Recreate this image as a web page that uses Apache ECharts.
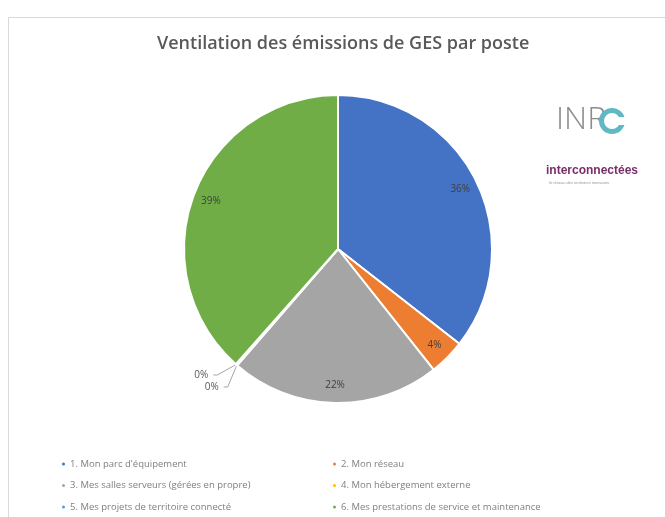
<!DOCTYPE html>
<html><head><meta charset="utf-8">
<script src="https://cdn.jsdelivr.net/npm/echarts@6/dist/echarts.min.js"></script>
<style>html,body{margin:0;padding:0;background:#fff}#c{width:665px;height:517px}</style>
</head><body><div id="c"></div>
<script>
const categories = [
  "1. Mon parc d'équipement",
  "2. Mon réseau",
  "3. Mes salles serveurs (gérées en propre)",
  "4. Mon hébergement externe",
  "5. Mes projets de territoire connecté",
  "6. Mes prestations de service et maintenance"
];
const values = [35.7, 3.8, 22.1, 0.1, 0.1, 38.6];
const colors = ['#4472C4', '#ED7D31', '#A5A5A5', '#FFC000', '#5B9BD5', '#70AD47'];
const titleText = 'Ventilation des émissions de GES par poste';

const FONT = '"Open Sans", "Liberation Sans", sans-serif';
const chart = echarts.init(document.getElementById('c'));
const pct = v => Math.round(v) + '%';

const mainData = categories.map((n, i) => ({
  name: n, value: values[i],
  itemStyle: { color: colors[i] },
  label: values[i] < 1 ? { show: true } : { show: false },
  labelLine: values[i] < 1 ? { show: true } : { show: false }
}));
const labelData = categories.map((n, i) => ({
  name: n, value: values[i],
  label: { show: values[i] >= 1 }
}));

const legendCommon = {
  orient: 'vertical', top: 459, height: 60, itemGap: 11.5, padding: 0,
  icon: 'circle', itemWidth: 5, itemHeight: 5,
  textStyle: { fontFamily: FONT, fontSize: 9.5, color: '#7f7f7f', padding: [0, 0, 0, -1] }
};

chart.setOption({
  backgroundColor: '#fff',
  animation: false,
  title: {
    text: titleText, left: 152, top: 30,
    textStyle: { fontFamily: FONT, fontSize: 18, fontWeight: 600, color: '#595959' }
  },
  legend: [
    Object.assign({ data: [categories[0], categories[2], categories[4]], left: 60 }, legendCommon),
    Object.assign({ data: [categories[1], categories[3], categories[5]], left: 331 }, legendCommon)
  ],
  graphic: [
    { type: 'rect', shape: { x: 8.5, y: 17.5, width: 660, height: 520 },
      style: { fill: 'none', stroke: '#d9d9d9', lineWidth: 1 }, z: -1 },
    { type: 'text', left: 556, top: 104,
      style: { text: 'INR', font: '200 32px "Open Sans", sans-serif', fill: '#8c8c8c' } },
    { type: 'ring', shape: { cx: 612, cy: 121, r: 13, r0: 8 },
      style: { fill: '#5fb8c4' } },
    { type: 'rect', shape: { x: 616, y: 117, width: 10, height: 8 },
      style: { fill: '#ffffff' } },
    { type: 'text', left: 546, top: 165,
      style: { text: 'interconnectées', font: 'bold 12px "Liberation Sans Narrow", "Liberation Sans", sans-serif', fill: '#7a2e6a' } },
    { type: 'text', left: 549, top: 181,
      style: { text: 'le réseau des territoires innovants', font: '4px sans-serif', fill: '#999' } }
  ],
  series: [
    {
      type: 'pie', center: [338, 249], radius: 154,
      startAngle: 90, clockwise: true,
      data: mainData,
      itemStyle: { borderColor: '#fff', borderWidth: 2 },
      label: {
        position: 'outside', formatter: p => pct(p.value),
        fontFamily: FONT, fontSize: 10, color: '#595959'
      },
      labelLine: { length: 14, length2: 4, lineStyle: { color: '#a6a6a6' } },
      emphasis: { disabled: true }
    },
    {
      type: 'pie', center: [338, 249], radius: [112, 154],
      startAngle: 90, clockwise: true, silent: true,
      data: labelData,
      itemStyle: { color: 'rgba(0,0,0,0)' },
      label: {
        position: 'inside', formatter: p => pct(p.value),
        fontFamily: FONT, fontSize: 10, color: '#404040'
      },
      labelLine: { show: false },
      emphasis: { disabled: true }
    }
  ]
});
</script>
</body></html>
